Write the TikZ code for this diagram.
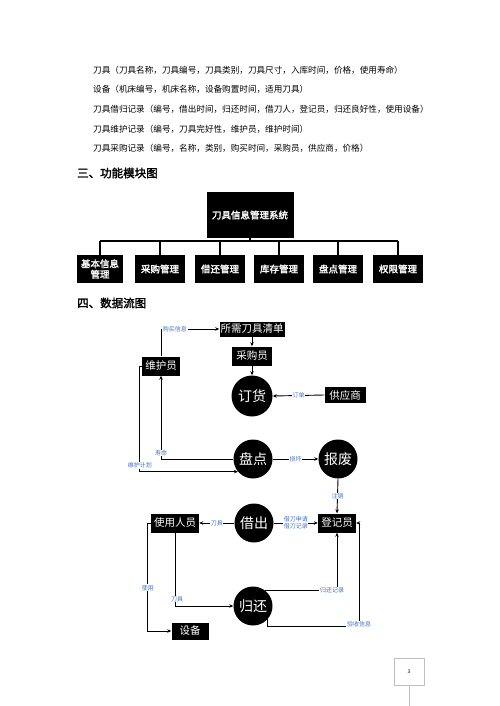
\documentclass[tikz,border=0pt]{standalone}
\usepackage{fontspec}
\setmainfont[AutoFakeBold=2]{Noto Sans CJK SC}
\usetikzlibrary{arrows.meta}
\definecolor{lblblue}{RGB}{68,114,196}
\begin{document}
\begin{tikzpicture}[x=1pt,y=-1pt,
 body/.style={anchor=west,inner sep=0,font=\fontsize{8.6}{10}\selectfont},
 head/.style={anchor=west,inner sep=0,font=\fontsize{11.5}{13}\selectfont\bfseries},
 modbox/.style={fill=black,text=white,inner sep=1pt,align=center,font=\fontsize{9.5}{10.5}\selectfont\bfseries,minimum height=28,minimum width=48},
 modline/.style={line width=2pt},
 fbox/.style={fill=black,text=white,inner sep=1pt,font=\fontsize{10.5}{12}\selectfont},
 fcirc/.style={circle,fill=black,text=white,inner sep=0,minimum size=39,font=\fontsize{14}{16}\selectfont},
 flow/.style={line width=0.9pt,-{Stealth[length=4pt,width=3.5pt]}},
 lbl/.style={fill=white,text=lblblue,inner sep=0.6pt,font=\fontsize{6}{6.8}\selectfont,align=center},
]
\fill[white] (0,0) rectangle (500,706);
\useasboundingbox (0,0) rectangle (500,706);

% body text
\node[body] (t1) at (93,70) {刀具（刀具名称，刀具编号，刀具类别，刀具尺寸，入库时间，价格，使用寿命）};
\node[body] (t2) at (93,89) {设备（机床编号，机床名称，设备购置时间，适用刀具）};
\node[body] (t3) at (93,109) {刀具借归记录（编号，借出时间，归还时间，借刀人，登记员，归还良好性，使用设备）};
\node[body] (t4) at (93,129) {刀具维护记录（编号，刀具完好性，维护员，维护时间）};
\node[body] (t5) at (93,148) {刀具采购记录（编号，名称，类别，购买时间，采购员，供应商，价格）};

% headings
\node[head] (h3) at (77,173) {三、功能模块图};
\node[head] (h4) at (77,303) {四、数据流图};

% module diagram
\node[modbox,minimum width=87,minimum height=46] (top) at (250,215) {刀具信息管理系统};
\node[modbox,minimum width=46] (m1) at (100,269) {基本信息\\管理};
\node[modbox,minimum width=50] (m2) at (160,269) {采购管理};
\node[modbox,minimum width=50] (m3) at (220,269) {借还管理};
\node[modbox,minimum width=50] (m4) at (279,269) {库存管理};
\node[modbox,minimum width=50] (m5) at (338,269) {盘点管理};
\node[modbox,minimum width=50] (m6) at (398,269) {权限管理};
\coordinate (barL) at (100,241);
\coordinate (barR) at (398,241);
\draw[modline] (barL) -- (barR);
\draw[modline] (top.south) -- (top.south |- barL);
\foreach \m in {m1,m2,m3,m4,m5,m6}{
  \draw[modline] (\m.north) -- (\m.north |- barL);
}

% data flow diagram
\node[fbox,minimum width=65,minimum height=15] (need) at (252,329) {所需刀具清单};
\node[fbox,minimum width=40,minimum height=19] (buyer) at (252,356) {采购员};
\node[fcirc,minimum size=41] (order) at (252,396) {订货};
\node[fbox,minimum width=41,minimum height=16] (sup) at (345,395) {供应商};
\node[fbox,minimum width=38,minimum height=19] (maint) at (161,366) {维护员};
\node[fcirc] (check) at (253,459) {盘点};
\node[fcirc] (scrap) at (338,459) {报废};
\node[fbox,minimum width=48,minimum height=19] (user) at (175,523) {使用人员};
\node[fcirc] (lend) at (254,523) {借出};
\node[fbox,minimum width=38,minimum height=19] (reg) at (337,523) {登记员};
\node[fcirc] (ret) at (253,606) {归还};
\node[fbox,minimum width=37,minimum height=17] (dev) at (190,631) {设备};

\draw[flow] (maint.north) |- node[lbl,pos=0.62]{购买信息} (need.west);
\draw[flow] (need.south) -- (buyer.north);
\draw[flow] (buyer.south) -- (order.north);
\draw[flow] (sup.west) -- node[lbl]{订单} (order.east);
\draw[flow] (check.west) -| node[lbl,pos=0.5,yshift=6pt]{寿命} (maint.south);
\draw[flow] (maint.west) -- ++(-2,0) |- node[lbl,pos=0.5,yshift=6pt]{维护计划} (check.220);
\draw[flow] (check.east) -- node[lbl]{损坏} (scrap.west);
\draw[flow] (scrap.south) -- node[lbl]{注销} (reg.north);
\draw[flow] (lend.west) -- node[lbl]{刀具} (user.east);
\draw[flow] (lend.east) -- node[lbl]{借刀申请\\借刀记录} (reg.west);
\draw[flow] (user.west) -- ++(-3,0) |- node[lbl,pos=0.3]{使用} (dev.west);
\draw[flow] (user.south) |- node[lbl,pos=0.5,yshift=7pt,xshift=2pt]{刀具} (ret.west);
\draw[flow] (ret.52) -| node[lbl,pos=0.5,xshift=-5pt]{归还记录} (reg.south);
\coordinate (c1) at (359,626);
\draw[flow] (ret.-42) |- (c1) |- (reg.east);
\node[lbl] (lb14) at (359,624) {验收信息};

% page number
\node[draw=gray!50,line width=0.6pt,minimum width=30,minimum height=27,inner sep=0,font=\fontsize{5}{6}\selectfont] (pg) at (409,671.5) {3};
\coordinate (pgend) at (409,706);
\draw[gray!50,line width=0.6pt] (pg.south) -- (pgend);
\end{tikzpicture}
\end{document}
